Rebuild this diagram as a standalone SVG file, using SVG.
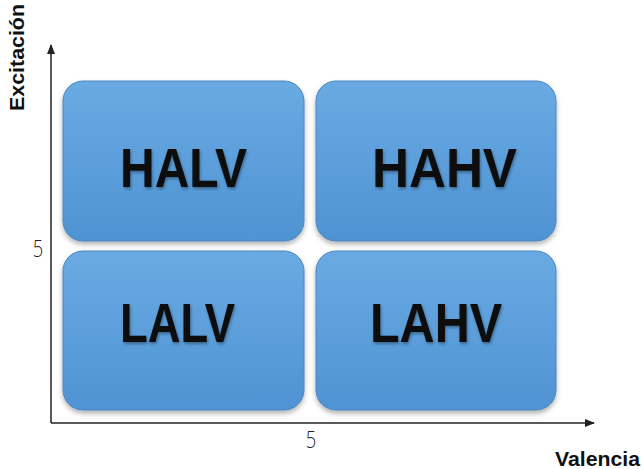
<svg xmlns="http://www.w3.org/2000/svg" width="642" height="469" viewBox="0 0 642 469">
  <style>
    .box { fill: url(#boxFill); stroke: #4a86c0; stroke-width: 1; filter: url(#soft); }
    .lbl { font-family: "Liberation Sans", Arial, sans-serif; font-weight: bold; font-size: 56px; fill: #0d0d0d; }
    .axisTitle { font-family: "Liberation Sans", Arial, sans-serif; font-weight: bold; font-size: 21px; fill: #111; }
    .tick { font-family: "Open Sans", "DejaVu Sans", sans-serif; font-weight: 300; font-size: 23px; fill: #222; text-anchor: middle; }
    .axis { stroke: #222; stroke-width: 1.5; fill: none; }
  </style>
  <defs>
    <linearGradient id="boxFill" x1="0" y1="0" x2="0" y2="1">
      <stop offset="0" stop-color="#6aaae2"/>
      <stop offset="0.5" stop-color="#5c9fdb"/>
      <stop offset="1" stop-color="#4f93d3"/>
    </linearGradient>
    <filter id="soft" x="-10%" y="-10%" width="120%" height="125%">
      <feDropShadow dx="0" dy="3" stdDeviation="2.5" flood-color="#000" flood-opacity="0.3"/>
    </filter>
    <filter id="txtShadow" x="-10%" y="-20%" width="120%" height="140%">
      <feDropShadow dx="1" dy="2" stdDeviation="1.5" flood-color="#000" flood-opacity="0.35"/>
    </filter>
    <marker id="arrow" markerWidth="10" markerHeight="8" refX="9" refY="4" orient="auto" markerUnits="userSpaceOnUse">
      <path d="M0,0 L10,4 L0,8 Z" fill="#222"/>
    </marker>
  </defs>

  <rect width="642" height="469" fill="#ffffff"/>

  <g id="connectors">
    <line class="axis" x1="51" y1="423" x2="51" y2="45" marker-end="url(#arrow)"/>
    <line class="axis" x1="51" y1="423" x2="594" y2="423" marker-end="url(#arrow)"/>
  </g>

  <g id="HALV">
    <rect class="box" x="63" y="81" width="241" height="160" rx="20"/>
    <text class="lbl" x="120" y="187" textLength="127" lengthAdjust="spacingAndGlyphs" filter="url(#txtShadow)">HALV</text>
  </g>
  <g id="HAHV">
    <rect class="box" x="316" y="81" width="240" height="160" rx="20"/>
    <text class="lbl" x="372" y="187" textLength="145" lengthAdjust="spacingAndGlyphs" filter="url(#txtShadow)">HAHV</text>
  </g>
  <g id="LALV">
    <rect class="box" x="63" y="251" width="241" height="159" rx="20"/>
    <text class="lbl" x="120" y="342" textLength="115" lengthAdjust="spacingAndGlyphs" filter="url(#txtShadow)">LALV</text>
  </g>
  <g id="LAHV">
    <rect class="box" x="316" y="251" width="240" height="159" rx="20"/>
    <text class="lbl" x="370" y="342" textLength="132" lengthAdjust="spacingAndGlyphs" filter="url(#txtShadow)">LAHV</text>
  </g>

  <g id="axis-labels">
    <text class="axisTitle" transform="translate(24,111) rotate(-90)" textLength="107" lengthAdjust="spacingAndGlyphs">Excitación</text>
    <text class="axisTitle" x="555" y="466" textLength="85" lengthAdjust="spacingAndGlyphs">Valencia</text>
    <text class="tick" transform="translate(38,257) scale(0.8,1)">5</text>
    <text class="tick" transform="translate(311,448) scale(0.8,1)">5</text>
  </g>
</svg>
